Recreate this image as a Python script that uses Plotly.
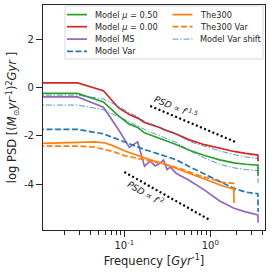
import plotly.graph_objects as go

# ---------------- data ----------------
FREQ = [0.005, 0.0286, 0.0571, 0.0857, 0.1143, 0.1429, 0.1714, 0.2, 0.2286, 0.2571,
        0.2857, 0.3143, 0.3429, 0.3714, 0.4, 0.5714, 0.8571, 1.286, 1.886, 2.571, 3.571, 3.6]

MODEL_MU050 = [-0.25, -0.25, -0.60, -1.18, -1.52, -1.66, -1.88, -1.97, -2.04, -2.10,
               -2.17, -2.22, -2.27, -2.32, -2.36, -2.60, -2.82, -3.00, -3.12, -3.18, -3.22, -3.65]
MODEL_MU000 = [0.19, 0.19, -0.14, -0.85, -1.12, -1.27, -1.45, -1.52, -1.60, -1.66,
               -1.74, -1.78, -1.83, -1.88, -1.93, -2.17, -2.37, -2.53, -2.65, -2.73, -2.80, -3.05]
MODEL_MS = [-0.39, -0.39, -0.82, -1.75, -2.48, -2.25, -3.26, -3.05, -3.25, -3.15,
            -3.00, -3.40, -3.30, -3.45, -3.55, -3.85, -4.25, -4.70, -5.00, -5.15, -5.28, -5.60]
MODEL_VAR = [-1.74, -1.74, -1.92, -2.16, -2.36, -2.48, -2.57, -2.64, -2.71, -2.76,
             -2.81, -2.86, -2.90, -2.95, -2.99, -3.28, -3.58, -3.90, -4.18, -4.33, -4.40, -5.15]
MODEL_VAR_SHIFT_HI = [-0.32, -0.32, -0.48, -0.78, -1.05, -1.22, -1.40, -1.50, -1.58, -1.64,
                      -1.72, -1.77, -1.82, -1.88, -1.92, -2.24, -2.45, -2.63, -2.78, -2.88, -2.94, -3.35]
MODEL_VAR_SHIFT_LO = [-0.73, -0.73, -0.92, -1.20, -1.42, -1.60, -1.75, -1.85, -1.93, -2.00,
                      -2.06, -2.12, -2.17, -2.22, -2.27, -2.62, -2.92, -3.18, -3.33, -3.40, -3.44, -3.95]

FREQ_300 = [0.005, 0.02, 0.03, 0.045, 0.06, 0.075, 0.1, 0.15, 0.2, 0.3, 0.5, 0.7, 1.0, 1.4, 1.87, 1.89]
THE300 = [-2.36, -2.30, -2.26, -2.25, -2.30, -2.42, -2.62, -2.85, -3.00, -3.18, -3.48, -3.70,
          -3.90, -4.08, -4.20, -4.78]
THE300_VAR = [-2.43, -2.43, -2.43, -2.47, -2.56, -2.66, -2.82, -2.95, -3.05, -3.18, -3.42, -3.62,
              -3.78, -3.93, -3.97, -4.32]

GUIDE15_F = [0.2, 2.0]
GUIDE15_Y = [-0.77, -2.27]
GUIDE2_F = [0.1, 1.0]
GUIDE2_Y = [-3.50, -5.50]

X_TICKS = [0.1, 1.0]
X_TICKTEXT = ["10<sup>-1</sup>", "10<sup>0</sup>"]
X_MINOR = [0.02, 0.03, 0.04, 0.05, 0.06, 0.07, 0.08, 0.09,
           0.2, 0.3, 0.4, 0.5, 0.6, 0.7, 0.8, 0.9, 2, 3, 4]
Y_TICKS = [-4, -2, 0, 2]
Y_TICKTEXT = ["-4", "-2", "0", "2"]

GREEN, RED, PURPLE, BLUE, ORANGE = "#2ca02c", "#d62728", "#9467bd", "#1f77b4", "#ff7f0e"
SHIFT = "rgba(31,119,180,0.75)"

DASHED = "6px,2.5px"
DASHDOT = "6px,1.8px,1.5px,1.8px"

series = [
    # name, x, y, color, width, dash
    ("Model μ = 0.50", FREQ, MODEL_MU050, GREEN, 1.7, "solid"),
    ("Model μ = 0.00", FREQ, MODEL_MU000, RED, 1.7, "solid"),
    ("Model MS", FREQ, MODEL_MS, PURPLE, 1.7, "solid"),
    ("Model Var", FREQ, MODEL_VAR, BLUE, 1.7, DASHED),
    ("The300", FREQ_300, THE300, ORANGE, 1.7, "solid"),
    ("The300 Var", FREQ_300, THE300_VAR, ORANGE, 1.7, DASHED),
    ("Model Var shift", FREQ, MODEL_VAR_SHIFT_HI, SHIFT, 1.0, DASHDOT),
    ("Model Var shift (2)", FREQ, MODEL_VAR_SHIFT_LO, SHIFT, 1.0, DASHDOT),
]

fig = go.Figure()
for name, xs, ys, col, w, dash in series:
    fig.add_trace(go.Scatter(x=xs, y=ys, mode="lines", name=name, showlegend=False,
                             line=dict(color=col, width=w, dash=dash)))

for gx, gy in [(GUIDE15_F, GUIDE15_Y), (GUIDE2_F, GUIDE2_Y)]:
    fig.add_trace(go.Scatter(x=gx, y=gy, mode="lines", showlegend=False,
                             line=dict(color="black", width=2.2, dash="2px,2.5px")))

# ---------------- manual legend (compact, like matplotlib) ----------------
LEGEND_NAMES = ["Model <i>μ</i> = 0.50", "Model <i>μ</i> = 0.00", "Model MS", "Model Var",
                "The300", "The300 Var", "Model Var shift"]
LEGEND_STYLE = [(GREEN, 1.7, "solid"), (RED, 1.7, "solid"), (PURPLE, 1.7, "solid"),
                (BLUE, 1.7, DASHED), (ORANGE, 1.7, "solid"), (ORANGE, 1.7, DASHED),
                (SHIFT, 1.0, DASHDOT)]

L, T, PW, PH = 43, 5, 222, 225


def px(x):
    return (x - L) / PW


def py(y):
    return 1 - (y - T) / PH


shapes = [dict(type="rect", xref="paper", yref="paper", x0=px(65), x1=px(263), y0=py(59), y1=py(6),
               fillcolor="rgba(255,255,255,0.8)", line=dict(color="#d6d6d6", width=1), layer="above")]
annotations = []
rows_y = [14.6, 26.7, 39.1, 51.4]
for i, (nm, (col, w, dash)) in enumerate(zip(LEGEND_NAMES, LEGEND_STYLE)):
    c = 0 if i < 4 else 1
    r = i if i < 4 else i - 4
    x0 = 67 if c == 0 else 172.5
    yy = py(rows_y[r])
    shapes.append(dict(type="line", xref="paper", yref="paper", x0=px(x0), x1=px(x0 + 20),
                       y0=yy, y1=yy, line=dict(color=col, width=w, dash=dash), layer="above"))
    annotations.append(dict(xref="paper", yref="paper", x=px(x0 + 25.5), y=yy, text=nm,
                            showarrow=False, xanchor="left", yanchor="middle",
                            font=dict(size=8.2, color="#262626")))

annotations.append(dict(x=-0.40, y=-0.82, xref="x", yref="y", showarrow=False, textangle=23,
                        text="<i>PSD</i> ∝ <i>f</i><sup>-1.5</sup>",
                        font=dict(size=9, color="#262626")))
annotations.append(dict(x=-0.75, y=-4.36, xref="x", yref="y", showarrow=False, textangle=30,
                        text="<i>PSD</i> ∝ <i>f</i><sup>-2</sup>",
                        font=dict(size=9, color="#262626")))

fig.update_layout(
    width=274, height=274,
    margin=dict(l=L, r=274 - L - PW, t=T, b=274 - T - PH),
    paper_bgcolor="white", plot_bgcolor="white",
    font=dict(family="DejaVu Sans", color="#262626"),
    shapes=shapes, annotations=annotations,
    showlegend=False,
)
fig.update_xaxes(type="log", range=[-1.946, 0.636], showgrid=False, zeroline=False,
                 showline=True, linecolor="#262626", linewidth=1.2, mirror=True,
                 ticks="outside", ticklen=6, tickwidth=1.2, tickcolor="#262626",
                 tickmode="array", tickvals=X_TICKS, ticktext=X_TICKTEXT,
                 tickfont=dict(size=10),
                 minor=dict(tickmode="array", tickvals=X_MINOR, ticks="outside",
                            ticklen=3.5, tickwidth=1, tickcolor="#262626"),
                 title=dict(text="Frequency [<i>Gyr</i><sup>-1</sup>]", font=dict(size=11.5), standoff=6))
fig.update_yaxes(range=[-5.90, 3.41], showgrid=False, zeroline=False,
                 showline=True, linecolor="#262626", linewidth=1.2, mirror=True,
                 ticks="outside", ticklen=6, tickwidth=1.2, tickcolor="#262626",
                 tickmode="array", tickvals=Y_TICKS, ticktext=Y_TICKTEXT,
                 tickfont=dict(size=10),
                 title=dict(text="log PSD [(<i>M</i><sub>⊙</sub><i>yr</i><sup>-1</sup>)<sup>2</sup><i>Gyr</i> ]",
                            font=dict(size=11.5), standoff=4))

fig.write_html("out.html", config={"displayModeBar": False},
               post_script="document.body.style.margin='0';document.body.style.overflow='hidden';")
